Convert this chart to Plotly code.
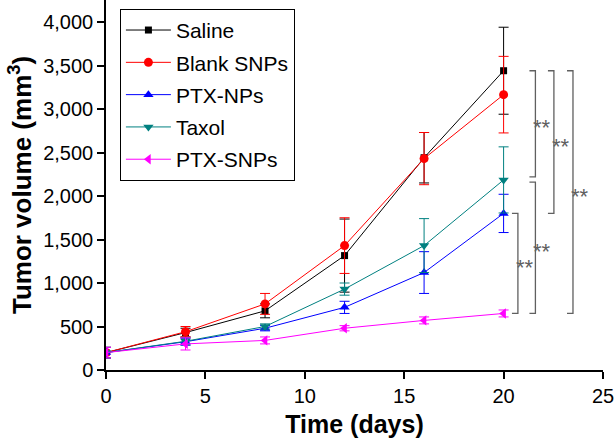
import plotly.graph_objects as go

days = [0, 4, 8, 12, 16, 20]
series_names = ["Saline", "Blank SNPs", "PTX-NPs", "Taxol", "PTX-SNPs"]
saline = [200, 430, 680, 1315, 2440, 3440]
saline_err = [60, 50, 80, 420, 290, 500]
blank_snps = [200, 440, 760, 1430, 2430, 3165]
blank_snps_err = [60, 60, 120, 320, 300, 440]
ptx_nps = [200, 325, 480, 720, 1120, 1800]
ptx_nps_err = [60, 40, 30, 70, 240, 220]
taxol = [200, 330, 500, 930, 1430, 2185]
taxol_err = [60, 40, 30, 70, 310, 380]
ptx_snps = [200, 300, 340, 480, 570, 650]
ptx_snps_err = [60, 70, 40, 30, 40, 40]

values = [saline, blank_snps, ptx_nps, taxol, ptx_snps]
errors = [saline_err, blank_snps_err, ptx_nps_err, taxol_err, ptx_snps_err]
colors = ["#000000", "#ff0000", "#0000ff", "#008080", "#ff00ff"]
symbols = ["square", "circle", "triangle-up", "triangle-down", "triangle-left"]
msizes = [7, 9, 9, 9, 9]

fig = go.Figure()
for i, name in enumerate(series_names):
    fig.add_trace(go.Scatter(
        x=days, y=values[i], name=name, mode="lines+markers",
        line=dict(color=colors[i], width=1),
        marker=dict(symbol=symbols[i], size=msizes[i], color=colors[i]),
        error_y=dict(type="data", array=errors[i], color=colors[i], thickness=1, width=5),
        legendgroup=name,
    ))

# significance brackets between series end values
end = {n: v[-1] for n, v in zip(series_names, values)}
brackets = [
    (end["Saline"], end["Taxol"] + 35, 21.6),
    (end["Saline"], end["PTX-NPs"], 22.53),
    (end["Saline"], end["PTX-SNPs"], 23.49),
    (end["Taxol"] - 25, end["PTX-SNPs"], 21.6),
    (end["PTX-NPs"], end["PTX-SNPs"], 20.72),
]
gray = "#606060"
tick = 0.3
for ytop, ybot, bx in brackets:
    fig.add_shape(type="path",
                  path=f"M {bx - tick} {ytop} L {bx} {ytop} L {bx} {ybot} L {bx - tick} {ybot}",
                  line=dict(color=gray, width=1.3), xref="x", yref="y")
    fig.add_annotation(x=bx, y=(ytop + ybot) / 2, text="**", showarrow=False,
                       xanchor="left", yanchor="middle", xshift=-4, yshift=-4,
                       font=dict(family="Liberation Sans, Arial", size=22, color=gray))

fig.update_layout(
    width=614, height=444,
    margin=dict(l=106, r=11, t=0, b=74),
    paper_bgcolor="white", plot_bgcolor="white",
    font=dict(family="Liberation Sans, Arial", size=20, color="black"),
    showlegend=True,
    legend=dict(x=0.028, y=0.976, xanchor="left", yanchor="top",
                bordercolor="black", borderwidth=1, bgcolor="white",
                font=dict(size=21), traceorder="grouped", tracegroupgap=2,
                itemwidth=45),
    xaxis=dict(range=[0, 25], tickvals=[0, 5, 10, 15, 20, 25], showgrid=False,
               zeroline=False, showline=True, linecolor="black", linewidth=1.5,
               ticks="outside", ticklen=7, tickwidth=1.5, tickcolor="black",
               tickfont=dict(size=20), ticklabeloverflow="allow",
               title=dict(text="<b>Time (days)</b>", font=dict(size=25), standoff=10)),
    yaxis=dict(range=[0, 4253], tickvals=[0, 500, 1000, 1500, 2000, 2500, 3000, 3500, 4000],
               tickformat=",d", showgrid=False, zeroline=False, showline=True,
               linecolor="black", linewidth=1.5, ticks="outside", ticklen=7,
               tickwidth=1.5, tickcolor="black", tickfont=dict(size=20),
               title=dict(text="<b>Tumor volume (mm<sup>3</sup>)</b>", font=dict(size=26), standoff=4)),
)

fig.write_html("out.html", config={"displayModeBar": False},
               post_script="document.body.style.margin='0';")
